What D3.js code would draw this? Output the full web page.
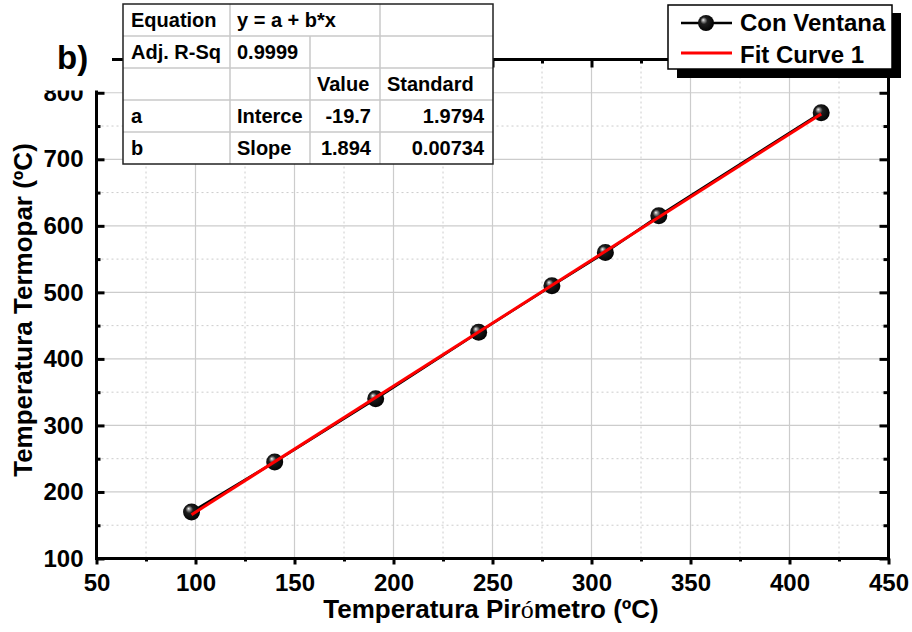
<!DOCTYPE html>
<html lang="es">
<head>
  <meta charset="UTF-8">
  <title>Temperatura Termopar vs Pirómetro</title>
  <script src="https://d3js.org/d3.v7.min.js"></script>
  <style>
    body { margin: 0; background: #fff; }
    svg text { font-family: "Liberation Sans", Arial, sans-serif; font-weight: bold; fill: #000; }
  </style>
</head>
<body>
  <div id="chart"></div>
  <script>
    // datos
    var pirometro = [98, 140, 191, 243, 280, 307, 334, 416];
    var termopar  = [170, 245, 340, 440, 510, 560, 615, 770];
    // ajuste lineal y = a + b*x
    var fitA = -19.7, fitB = 1.894;
    var xMajor = [50, 100, 150, 200, 250, 300, 350, 400, 450];
    var xMinor = [75, 125, 175, 225, 275, 325, 375, 425];
    var yMajor = [100, 200, 300, 400, 500, 600, 700, 800];
    var yMinor = [150, 250, 350, 450, 550, 650, 750];
    var tableRows = [
      ["Equation", "y = a + b*x", "", ""],
      ["Adj. R-Sq", "0.9999", "", ""],
      ["", "", "Value", "Standard"],
      ["a", "Interce", "-19.7", "1.9794"],
      ["b", "Slope", "1.894", "0.00734"]
    ];
    var legendNames = ["Con Ventana", "Fit Curve 1"];

    var W = 912, H = 632;
    var svg = d3.select("#chart").append("svg")
      .attr("width", W).attr("height", H);

    var x = d3.scaleLinear().domain([50, 450]).range([96.5, 888.5]);
    var y = d3.scaleLinear().domain([100, 850]).range([558.5, 59.5]);

    // gradiente de la esfera
    var grad = svg.append("defs").append("radialGradient")
      .attr("id", "ball").attr("cx", "45%").attr("cy", "45%").attr("r", "58%")
      .attr("fx", "32%").attr("fy", "30%");
    grad.append("stop").attr("offset", "0%").attr("stop-color", "#f4f4f4");
    grad.append("stop").attr("offset", "14%").attr("stop-color", "#9a9a9a");
    grad.append("stop").attr("offset", "38%").attr("stop-color", "#1e1e1e");
    grad.append("stop").attr("offset", "100%").attr("stop-color", "#000000");

    // grid
    var grid = svg.append("g");
    grid.selectAll(".gx").data(xMajor.slice(1, -1)).enter().append("line")
      .attr("x1", d => x(d)).attr("x2", d => x(d)).attr("y1", y(100)).attr("y2", y(850))
      .attr("stroke", "#cccccc").attr("stroke-width", 1.2);
    grid.selectAll(".gxm").data(xMinor).enter().append("line")
      .attr("x1", d => x(d)).attr("x2", d => x(d)).attr("y1", y(100)).attr("y2", y(850))
      .attr("stroke", "#cccccc").attr("stroke-width", 1).attr("stroke-dasharray", "2,3");
    grid.selectAll(".gy").data(yMajor.slice(1)).enter().append("line")
      .attr("y1", d => y(d)).attr("y2", d => y(d)).attr("x1", x(50)).attr("x2", x(450))
      .attr("stroke", "#cccccc").attr("stroke-width", 1.2);
    grid.selectAll(".gym").data(yMinor).enter().append("line")
      .attr("y1", d => y(d)).attr("y2", d => y(d)).attr("x1", x(50)).attr("x2", x(450))
      .attr("stroke", "#cccccc").attr("stroke-width", 1).attr("stroke-dasharray", "2,3");

    // ejes
    svg.append("g").attr("transform", "translate(0," + y(100) + ")")
      .call(d3.axisBottom(x).tickValues(xMajor).tickSize(6).tickPadding(9).tickFormat(d3.format("d")));
    svg.append("g").attr("transform", "translate(0," + y(100) + ")")
      .call(d3.axisBottom(x).tickValues(xMinor).tickSize(3).tickFormat(""));
    svg.append("g").attr("transform", "translate(" + x(50) + ",0)")
      .call(d3.axisLeft(y).tickValues(yMajor).tickSize(-8).tickPadding(13).tickFormat(d3.format("d")));
    svg.append("g").attr("transform", "translate(" + x(50) + ",0)")
      .call(d3.axisLeft(y).tickValues(yMinor).tickSize(-4).tickFormat(""));
    svg.append("g").attr("transform", "translate(" + x(450) + ",0)")
      .call(d3.axisRight(y).tickValues(yMajor).tickSize(-9).tickFormat(""));
    svg.append("g").attr("transform", "translate(" + x(450) + ",0)")
      .call(d3.axisRight(y).tickValues(yMinor).tickSize(-5).tickFormat(""));
    svg.append("g").attr("transform", "translate(0," + y(850) + ")")
      .call(d3.axisTop(x).tickValues(xMajor).tickSize(-8).tickFormat(""));
    svg.append("g").attr("transform", "translate(0," + y(850) + ")")
      .call(d3.axisTop(x).tickValues(xMinor).tickSize(-4).tickFormat(""));
    svg.selectAll(".domain").remove();
    svg.selectAll(".tick line").attr("stroke", "#000").attr("stroke-width", 3);
    svg.selectAll(".tick text").style("font-size", "24px");

    // marco
    svg.append("rect")
      .attr("x", x(50)).attr("y", y(850))
      .attr("width", x(450) - x(50)).attr("height", y(100) - y(850))
      .attr("fill", "none").attr("stroke", "#000").attr("stroke-width", 3);

    // datos: linea + simbolos
    var pts = pirometro.map((d, i) => [d, termopar[i]]);
    svg.append("path").datum(pts)
      .attr("d", d3.line().x(d => x(d[0])).y(d => y(d[1])))
      .attr("fill", "none").attr("stroke", "#000").attr("stroke-width", 2.5);
    svg.selectAll(".ball").data(pts).enter().append("circle")
      .attr("cx", d => x(d[0])).attr("cy", d => y(d[1])).attr("r", 8.5)
      .attr("fill", "url(#ball)");

    // curva de ajuste
    var xmin = d3.min(pirometro), xmax = d3.max(pirometro);
    svg.append("line")
      .attr("x1", x(xmin)).attr("y1", y(fitA + fitB * xmin))
      .attr("x2", x(xmax)).attr("y2", y(fitA + fitB * xmax))
      .attr("stroke", "#ff0000").attr("stroke-width", 3);

    // titulos
    var xt = svg.append("text").attr("x", 491).attr("y", 618)
      .attr("text-anchor", "middle").style("font-size", "26px");
    xt.append("tspan").text("Temperatura Pir");
    xt.append("tspan").text("ó").style("font-family", "'Liberation Serif', serif").style("font-weight", "normal");
    xt.append("tspan").text("metro (ºC)");
    svg.append("text")
      .attr("transform", "translate(32," + 310 + ") rotate(-90)")
      .attr("text-anchor", "middle").style("font-size", "26px")
      .text("Temperatura Termopar (ºC)");

    // zona recortada arriba a la izquierda
    svg.append("rect").attr("x", 0).attr("y", 0).attr("width", 112).attr("height", 90.5).attr("fill", "#fff");
    svg.append("text").attr("x", 57).attr("y", 69).style("font-size", "33px").text("b)");

    // tabla de ajuste
    var colX = [123, 230, 310, 380, 493];
    var rowY = [4, 36, 68, 100, 132, 164];
    var tab = svg.append("g");
    tab.append("rect").attr("x", colX[0]).attr("y", rowY[0])
      .attr("width", colX[4] - colX[0]).attr("height", rowY[5] - rowY[0]).attr("fill", "#fff");
    // lineas interiores
    rowY.slice(1, -1).forEach(function (ry) {
      tab.append("line").attr("x1", colX[0]).attr("x2", colX[4]).attr("y1", ry).attr("y2", ry)
        .attr("stroke", "#c8c8c8").attr("stroke-width", 1.5);
    });
    [1, 2, 3].forEach(function (c) {
      // la celda y = a + b*x ocupa dos columnas
      var top = c === 2 ? rowY[1] : rowY[0];
      tab.append("line").attr("x1", colX[c]).attr("x2", colX[c]).attr("y1", top).attr("y2", rowY[5])
        .attr("stroke", "#c8c8c8").attr("stroke-width", 1.5);
    });
    tab.append("rect").attr("x", colX[0]).attr("y", rowY[0])
      .attr("width", colX[4] - colX[0]).attr("height", rowY[5] - rowY[0])
      .attr("fill", "none").attr("stroke", "#222").attr("stroke-width", 1.5);
    tableRows.forEach(function (row, r) {
      row.forEach(function (txt, c) {
        if (!txt) return;
        var right = (r >= 3 && c >= 2);
        tab.append("text")
          .attr("x", right ? colX[c + 1] - 9 : colX[c] + (c === 0 ? 8 : 7))
          .attr("y", rowY[r] + 23)
          .attr("text-anchor", right ? "end" : "start")
          .style("font-size", "20px")
          .text(txt);
      });
    });

    // leyenda con sombra
    var leg = svg.append("g");
    leg.append("rect").attr("x", 677).attr("y", 13).attr("width", 224).attr("height", 65).attr("fill", "#000");
    leg.append("rect").attr("x", 668).attr("y", 5).attr("width", 224).attr("height", 64)
      .attr("fill", "#fff").attr("stroke", "#000").attr("stroke-width", 1.5);
    leg.append("line").attr("x1", 681).attr("x2", 732).attr("y1", 23).attr("y2", 23)
      .attr("stroke", "#000").attr("stroke-width", 2.5);
    leg.append("circle").attr("cx", 706).attr("cy", 23).attr("r", 8).attr("fill", "url(#ball)");
    leg.append("line").attr("x1", 681).attr("x2", 732).attr("y1", 53).attr("y2", 53)
      .attr("stroke", "#ff0000").attr("stroke-width", 3);
    leg.selectAll(".lt").data(legendNames).enter().append("text")
      .attr("x", 740).attr("y", (d, i) => 31 + i * 32)
      .style("font-size", "24px").text(d => d);
  </script>
</body>
</html>
